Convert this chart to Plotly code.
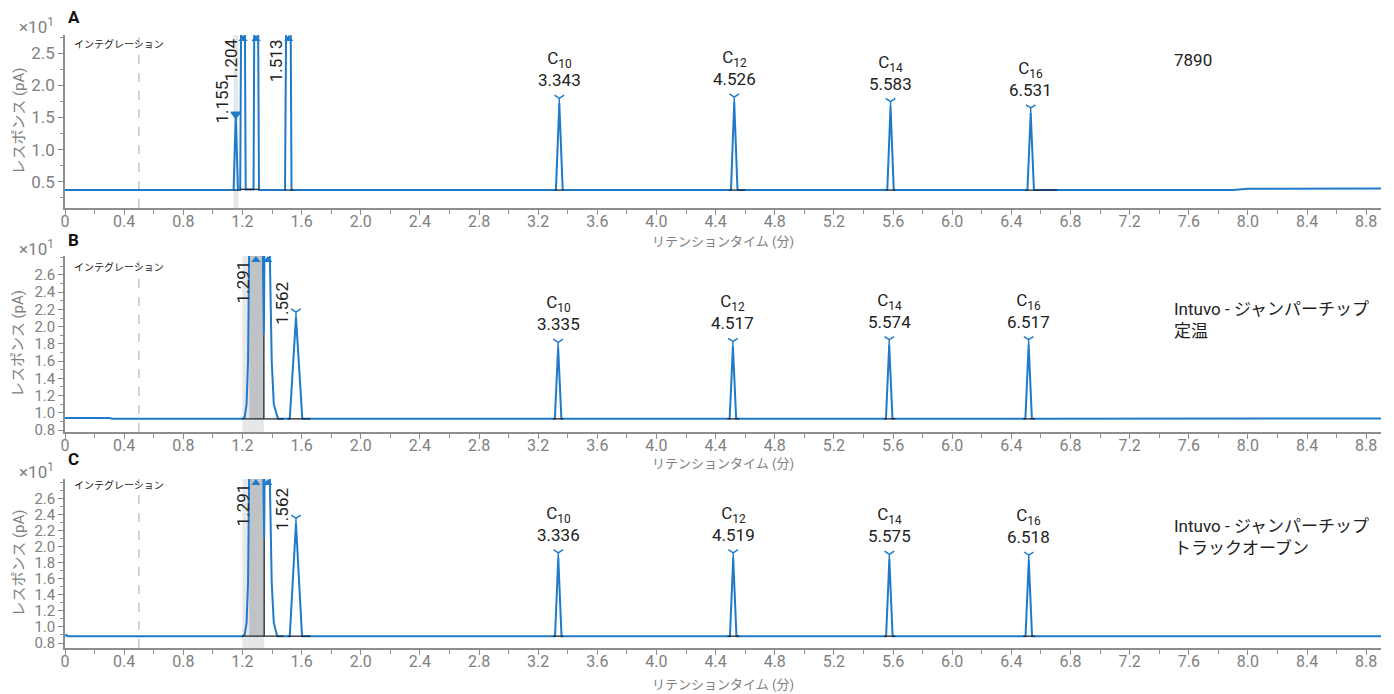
import plotly.graph_objects as go

FONT = "Roboto, 'Noto Sans CJK JP', sans-serif"
BLUE = "#1f7bc9"
TICK_GRAY = "#808080"
AXIS_GRAY = "#8e8e8e"
TEXT_DARK = "#222222"

# ---------------- data ----------------
x_tick_vals = [0.0, 0.4, 0.8, 1.2, 1.6, 2.0, 2.4, 2.8, 3.2, 3.6, 4.0, 4.4,
               4.8, 5.2, 5.6, 6.0, 6.4, 6.8, 7.2, 7.6, 8.0, 8.4, 8.8]
x_tick_text = ["0", "0.4", "0.8", "1.2", "1.6", "2.0", "2.4", "2.8", "3.2", "3.6",
               "4.0", "4.4", "4.8", "5.2", "5.6", "6.0", "6.4", "6.8", "7.2",
               "7.6", "8.0", "8.4", "8.8"]
a_y_ticks = [0.5, 1.0, 1.5, 2.0, 2.5]
bc_y_ticks = [0.8, 1.0, 1.2, 1.4, 1.6, 1.8, 2.0, 2.2, 2.4, 2.6]

# Panel A : 7890
a_time = [0.00, 1.140, 1.155, 1.170, 1.185, 1.204, 1.222, 1.275, 1.292, 1.312,
          1.488, 1.513, 1.532, 3.320, 3.343, 3.366, 4.504, 4.526, 4.548, 5.561,
          5.583, 5.605, 6.509, 6.531, 6.553, 7.90, 8.00, 8.90]
a_resp = [0.37, 0.37, 1.52, 0.37, 0.37, 9.0, 0.38, 0.38, 9.0, 0.37,
          0.37, 9.0, 0.37, 0.37, 1.72, 0.37, 0.37, 1.74, 0.37, 0.37,
          1.67, 0.37, 0.37, 1.57, 0.37, 0.372, 0.39, 0.392]
a_peak_time = [3.343, 4.526, 5.583, 6.531]
a_peak_resp = [1.72, 1.74, 1.67, 1.57]
a_side_time = [1.155]
a_side_resp = [1.52]
a_over_time = [1.204, 1.292, 1.513]
a_over_label = ["1.204", "", "1.513"]
a_band = [1.140, 1.172]
a_int_start = [1.140, 1.180, 1.485, 3.310, 4.490, 5.550, 6.495]
a_int_end = [1.172, 1.315, 1.545, 3.375, 4.600, 5.615, 6.710]
a_int_level = [0.37, 0.38, 0.37, 0.37, 0.37, 0.37, 0.37]

# Panel B : Intuvo 定温
b_time = [0.00, 0.30, 0.32, 1.200, 1.215, 1.228, 1.238, 1.246, 1.291, 1.345,
          1.358, 1.372, 1.386, 1.398, 1.412, 1.440, 1.520, 1.562, 1.605, 3.313,
          3.335, 3.357, 4.495, 4.517, 4.539, 5.552, 5.574, 5.596, 6.495, 6.517,
          6.539, 8.90]
b_resp = [0.94, 0.94, 0.93, 0.93, 0.95, 1.10, 1.60, 3.00, 9.0, 1.91,
          4.0, 9.0, 2.75, 1.60, 1.10, 0.93, 0.93, 2.11, 0.93, 0.93,
          1.76, 0.93, 0.93, 1.77, 0.93, 0.93, 1.79, 0.93, 0.93, 1.79,
          0.93, 0.935]
b_peak_time = [3.335, 4.517, 5.574, 6.517]
b_peak_resp = [1.76, 1.77, 1.79, 1.79]
b_side_time = [1.562]
b_side_resp = [2.11]
b_over_time = [1.291, 1.372]
b_over_label = ["1.291", ""]
b_band = [1.200, 1.345]
b_fill_time = [1.246, 1.246, 1.291, 1.345, 1.345]
b_fill_resp = [0.93, 3.00, 9.0, 1.91, 0.93]
b_drop = [1.345, 0.93, 1.91]
b_int_start = [1.200, 1.505, 3.300, 4.480, 5.540, 6.480]
b_int_end = [1.480, 1.660, 3.370, 4.560, 5.615, 6.560]
b_int_level = [0.93, 0.93, 0.93, 0.93, 0.93, 0.93]

# Panel C : Intuvo トラックオーブン
c_time = [0.00, 0.01, 0.02, 1.200, 1.215, 1.228, 1.238, 1.246, 1.291, 1.347,
          1.358, 1.372, 1.386, 1.398, 1.412, 1.435, 1.520, 1.562, 1.603, 3.314,
          3.336, 3.358, 4.497, 4.519, 4.541, 5.553, 5.575, 5.597, 6.496, 6.518,
          6.540, 8.90]
c_resp = [0.885, 0.90, 0.885, 0.885, 0.905, 1.05, 1.55, 3.0, 9.0, 2.11,
          4.0, 9.0, 2.75, 1.55, 1.05, 0.885, 0.885, 2.29, 0.885, 0.885,
          1.86, 0.885, 0.885, 1.86, 0.885, 0.885, 1.84, 0.885, 0.885, 1.83,
          0.885, 0.885]
c_peak_time = [3.336, 4.519, 5.575, 6.518]
c_peak_resp = [1.86, 1.86, 1.84, 1.83]
c_side_time = [1.562]
c_side_resp = [2.29]
c_over_time = [1.291, 1.372]
c_over_label = ["1.291", ""]
c_band = [1.200, 1.347]
c_fill_time = [1.246, 1.246, 1.291, 1.347, 1.347]
c_fill_resp = [0.885, 3.0, 9.0, 2.11, 0.885]
c_drop = [1.347, 0.885, 2.11]
c_int_start = [1.200, 1.505, 3.300, 4.480, 5.540, 6.480]
c_int_end = [1.480, 1.660, 3.370, 4.560, 5.615, 6.560]
c_int_level = [0.885, 0.885, 0.885, 0.885, 0.885, 0.885]

peak_names = ["C<sub>10</sub>", "C<sub>12</sub>", "C<sub>14</sub>", "C<sub>16</sub>"]

panel_letters = ["A", "B", "C"]
panel_notes = ["7890", "Intuvo - ジャンパーチップ<br>定温", "Intuvo - ジャンパーチップ<br>トラックオーブン"]

# ---------------- layout geometry ----------------
M_L, M_R, M_T, M_B = 65, 13, 35, 46
W, H = 1394, 694
PH = H - M_T - M_B
PW = W - M_L - M_R


def py(pix):
    return (H - M_B - pix) / PH


def px(pix):
    return (pix - M_L) / PW


panels = [
    dict(time=a_time, resp=a_resp, ptime=a_peak_time, presp=a_peak_resp,
         stime=a_side_time, sresp=a_side_resp, otime=a_over_time, olab=a_over_label,
         band=a_band, fill=None, drop=None,
         istart=a_int_start, iend=a_int_end, ilev=a_int_level,
         yrange=[0.09, 2.785], yticks=a_y_ticks, minor=0.25, ydom=[py(208), py(35)],
         ytickfont=17, side_symbol="triangle-down"),
    dict(time=b_time, resp=b_resp, ptime=b_peak_time, presp=b_peak_resp,
         stime=b_side_time, sresp=b_side_resp, otime=b_over_time, olab=b_over_label,
         band=b_band, fill=(b_fill_time, b_fill_resp), drop=b_drop,
         istart=b_int_start, iend=b_int_end, ilev=b_int_level,
         yrange=[0.777, 2.82], yticks=bc_y_ticks, minor=0.1, ydom=[py(432), py(256)],
         ytickfont=15, side_symbol="y-down"),
    dict(time=c_time, resp=c_resp, ptime=c_peak_time, presp=c_peak_resp,
         stime=c_side_time, sresp=c_side_resp, otime=c_over_time, olab=c_over_label,
         band=c_band, fill=(c_fill_time, c_fill_resp), drop=c_drop,
         istart=c_int_start, iend=c_int_end, ilev=c_int_level,
         yrange=[0.738, 2.84], yticks=bc_y_ticks, minor=0.1, ydom=[0.0, py(479)],
         ytickfont=15, side_symbol="y-down"),
]

letter_y = [17, 240, 459]
x10_y = [26, 248, 471]
integ_y = [44, 267, 485]
xtitle_y = [241, 463, 684]
note_y = [60, 320, 537]

fig = go.Figure()
shapes = []
annotations = []

for i, p in enumerate(panels):
    sfx = "" if i == 0 else str(i + 1)
    xr, yr = "x" + sfx, "y" + sfx
    y0, y1 = p["yrange"]
    dom = p["ydom"]
    ppu = (dom[1] - dom[0]) * PH / (y1 - y0)  # pixels per unit

    shapes.append(dict(type="rect", xref=xr, yref=yr + " domain", x0=p["band"][0], x1=p["band"][1],
                       y0=0, y1=1, fillcolor="#e6e7e8", line=dict(width=0), layer="below"))
    shapes.append(dict(type="line", xref=xr, yref=yr + " domain", x0=0.5, x1=0.5, y0=0, y1=1,
                       line=dict(color="#a3a6c4", width=1, dash="dash"), layer="below"))

    if p["fill"] is not None:
        fig.add_trace(go.Scatter(x=p["fill"][0], y=p["fill"][1], xaxis=xr, yaxis=yr, mode="lines",
                                 fill="toself", fillcolor="#bfc3c6", line=dict(width=0),
                                 hoverinfo="skip"))

    fig.add_trace(go.Scatter(x=p["time"], y=p["resp"], xaxis=xr, yaxis=yr, mode="lines",
                             line=dict(color=BLUE, width=2)))

    bx, by = [], []
    for s, e, l in zip(p["istart"], p["iend"], p["ilev"]):
        bx += [s, e, None]
        by += [l, l, None]
    if p["drop"] is not None:
        bx += [p["drop"][0], p["drop"][0], None]
        by += [p["drop"][1], p["drop"][2], None]
    fig.add_trace(go.Scatter(x=bx, y=by, xaxis=xr, yaxis=yr, mode="lines",
                             line=dict(color="#1c2430", width=1.3), hoverinfo="skip"))

    off = 5 / ppu
    fig.add_trace(go.Scatter(x=p["ptime"], y=[v + off for v in p["presp"]], xaxis=xr, yaxis=yr,
                             mode="markers", cliponaxis=False,
                             marker=dict(symbol="y-down", size=8, color=BLUE,
                                         line=dict(color=BLUE, width=1.5))))
    fig.add_trace(go.Scatter(x=p["stime"], y=[v + (2 / ppu if p["side_symbol"] == "triangle-down" else off)
                                              for v in p["sresp"]],
                             xaxis=xr, yaxis=yr, mode="markers", cliponaxis=False,
                             marker=dict(symbol=p["side_symbol"], size=8, color=BLUE,
                                         line=dict(color=BLUE, width=1.5))))
    fig.add_trace(go.Scatter(x=p["otime"], y=[y1 - 4 / ppu] * len(p["otime"]), xaxis=xr, yaxis=yr,
                             mode="markers", cliponaxis=False,
                             marker=dict(symbol="triangle-up", size=8, color=BLUE,
                                         line=dict(width=0))))

    for t, v, n in zip(p["ptime"], p["presp"], peak_names):
        annotations.append(dict(x=t, y=v, xref=xr, yref=yr, xanchor="center", yanchor="bottom",
                                yshift=11, showarrow=False, text=f"{n}<br>{t:.3f}",
                                font=dict(family=FONT, size=17, color=TEXT_DARK)))
    for t, v in zip(p["stime"], p["sresp"]):
        annotations.append(dict(x=t, y=v, xref=xr, yref=yr, xanchor="right", yanchor="bottom",
                                xshift=-2, yshift=-9, textangle=-90, showarrow=False,
                                text=f"{t:.3f}", font=dict(family=FONT, size=17, color=TEXT_DARK)))
    for t, lab in zip(p["otime"], p["olab"]):
        if lab:
            annotations.append(dict(x=t, y=1, xref=xr, yref=yr + " domain", xanchor="right",
                                    yanchor="top", xshift=-1, yshift=-2, textangle=-90,
                                    showarrow=False, text=lab,
                                    font=dict(family=FONT, size=17, color=TEXT_DARK)))

    annotations.append(dict(x=px(66), y=py(letter_y[i]), xref="paper", yref="paper", xanchor="left",
                            yanchor="middle", showarrow=False, text="<b>" + panel_letters[i] + "</b>",
                            font=dict(family=FONT, size=17, color="#111111")))
    annotations.append(dict(x=px(36), y=py(x10_y[i]), xref="paper", yref="paper", xanchor="center",
                            yanchor="middle", showarrow=False, text="×10<sup>1</sup>",
                            font=dict(family=FONT, size=17, color=TICK_GRAY)))
    annotations.append(dict(x=px(72), y=py(integ_y[i]), xref="paper", yref="paper", xanchor="left",
                            yanchor="middle", showarrow=False, text="インテグレーション",
                            font=dict(family=FONT, size=10, color=TEXT_DARK)))
    annotations.append(dict(x=px(18), y=(dom[0] + dom[1]) / 2, xref="paper", yref="paper",
                            xanchor="center", yanchor="middle", textangle=-90, showarrow=False,
                            text="レスポンス (pA)", font=dict(family=FONT, size=15, color=TICK_GRAY)))
    annotations.append(dict(x=0.5, y=py(xtitle_y[i]), xref="paper", yref="paper", xanchor="center",
                            yanchor="middle", showarrow=False, text="リテンションタイム (分)",
                            font=dict(family=FONT, size=13, color=TICK_GRAY)))
    annotations.append(dict(x=px(1172), y=py(note_y[i]), xref="paper", yref="paper", xanchor="left",
                            yanchor="middle", align="left", showarrow=False, text=panel_notes[i],
                            font=dict(family=FONT, size=17, color=TEXT_DARK)))

    fig.layout["xaxis" + sfx] = dict(
        range=[0, 8.9], domain=[0, 1], anchor=yr, tickvals=x_tick_vals, ticktext=x_tick_text,
        ticks="outside", ticklen=5, tickwidth=1, tickcolor=AXIS_GRAY, showline=True,
        linecolor=AXIS_GRAY, linewidth=1.5, showgrid=False, zeroline=False,
        ticklabelstandoff=-7,
        tickfont=dict(family=FONT, size=16, color=TICK_GRAY),
        minor=dict(tick0=0, dtick=0.2, ticks="outside", ticklen=4, tickcolor=AXIS_GRAY, showgrid=False))
    fig.layout["yaxis" + sfx] = dict(
        range=p["yrange"], domain=dom, anchor=xr, tickvals=p["yticks"], tickformat=".1f",
        ticks="outside", ticklen=5, tickwidth=1, tickcolor=AXIS_GRAY, showline=True,
        linecolor=AXIS_GRAY, linewidth=1.5, showgrid=False, zeroline=False,
        tickfont=dict(family=FONT, size=p["ytickfont"], color=TICK_GRAY),
        minor=dict(tick0=0, dtick=p["minor"], ticks="outside", ticklen=3, tickcolor=AXIS_GRAY,
                   showgrid=False))

fig.update_layout(
    width=W, height=H, margin=dict(l=M_L, r=M_R, t=M_T, b=M_B),
    paper_bgcolor="white", plot_bgcolor="white", showlegend=False,
    shapes=shapes, annotations=annotations, font=dict(family=FONT),
)

fig.write_html(
    "out.html",
    config={"displayModeBar": False},
    post_script="document.body.style.margin='0';document.body.style.overflow='hidden';",
)
